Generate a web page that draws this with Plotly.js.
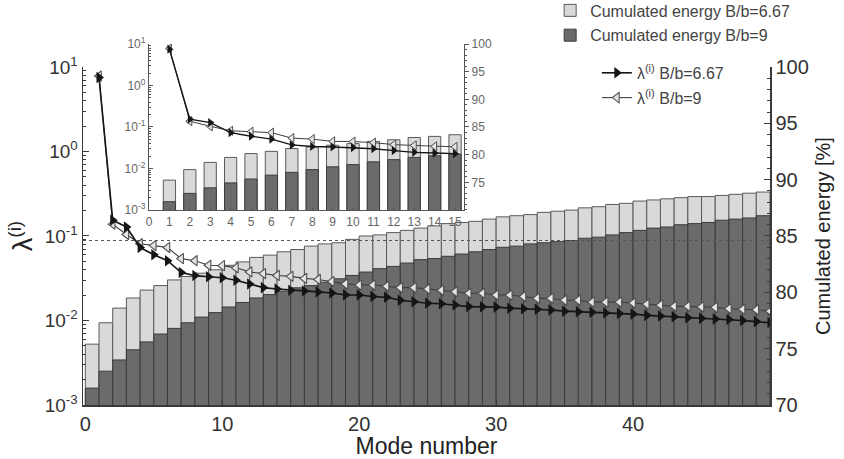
<!DOCTYPE html>
<html>
<head>
<meta charset="utf-8">
<script src="https://cdn.plot.ly/plotly-3.0.1.min.js"></script>
<style>html,body{margin:0;padding:0;background:#fff;}#chart{width:844px;height:459px;}</style>
</head>
<body>
<div id="chart"></div>
<script>
// ---- data ----
const modes = [1,2,3,4,5,6,7,8,9,10,11,12,13,14,15,16,17,18,19,20,21,22,23,24,25,
               26,27,28,29,30,31,32,33,34,35,36,37,38,39,40,41,42,43,44,45,46,47,48,49,50];

// cumulated energy [%], B/b = 6.67 (light bars)
const energy667 = [75.4,77.3,78.6,79.5,80.2,80.6,81.1,81.4,81.7,82.0,82.4,82.7,83.1,83.3,83.6,
                   83.8,84.1,84.3,84.4,84.7,85.0,85.1,85.3,85.5,85.7,85.9,86.1,86.2,86.3,86.5,
                   86.7,86.8,86.9,87.1,87.2,87.3,87.5,87.6,87.8,87.9,88.1,88.2,88.3,88.4,88.5,
                   88.5,88.6,88.7,88.8,88.9];
// cumulated energy [%], B/b = 9 (dark bars)
const energy9 = [71.5,73.0,74.0,74.9,75.6,76.3,76.8,77.3,77.8,78.2,78.7,79.1,79.5,79.8,80.1,
                 80.4,80.6,80.9,81.2,81.5,81.8,82.1,82.3,82.6,82.9,83.0,83.2,83.4,83.6,83.8,
                 84.0,84.1,84.3,84.4,84.5,84.6,84.8,84.9,85.1,85.3,85.5,85.7,85.8,86.0,86.1,
                 86.2,86.4,86.5,86.6,86.8];
// eigenvalues lambda^(i), B/b = 6.67 (filled triangles)
const lambda667 = [7.5,0.154,0.128,0.073,0.060,0.051,0.037,0.034,0.033,0.032,0.030,0.027,0.0245,0.0236,0.0228,
                   0.0224,0.0218,0.0212,0.0200,0.0200,0.0192,0.0188,0.0174,0.0167,0.0160,0.0158,0.0153,0.0146,0.0145,0.0144,
                   0.0140,0.0138,0.0136,0.0133,0.0129,0.0127,0.0125,0.0123,0.0121,0.0119,0.0115,0.0113,0.0111,0.0108,0.0106,
                   0.0104,0.0103,0.0100,0.0097,0.0094];
// eigenvalues lambda^(i), B/b = 9 (open triangles)
const lambda9 = [7.8,0.138,0.104,0.081,0.077,0.073,0.054,0.051,0.045,0.0446,0.042,0.0376,0.0359,0.0341,0.0333,
                 0.0315,0.0306,0.0289,0.0271,0.0263,0.0263,0.0254,0.0245,0.0245,0.0236,0.0228,0.0219,0.0210,0.0210,0.0200,
                 0.0200,0.0192,0.0183,0.0183,0.0174,0.0174,0.0165,0.0165,0.0165,0.0161,0.0156,0.0152,0.0147,0.0147,0.0145,
                 0.0143,0.0138,0.0136,0.0134,0.0129];
const insetCount = 15;

const xTicks = [0,10,20,30,40];
const rightTicks = [70,75,80,85,90,95,100];
const insetRightTicks = [75,80,85,90,95,100];
const logTickVals = [0.001,0.01,0.1,1,10];
const logTickText = ['10<sup>-3</sup>','10<sup>-2</sup>','10<sup>-1</sup>','10<sup>0</sup>','10<sup>1</sup>'];
const logMinorVals = [0.002,0.003,0.004,0.005,0.006,0.007,0.008,0.009,
                      0.02,0.03,0.04,0.05,0.06,0.07,0.08,0.09,
                      0.2,0.3,0.4,0.5,0.6,0.7,0.8,0.9,
                      2,3,4,5,6,7,8,9];
const insetXTicks = [0,1,2,3,4,5,6,7,8,9,10,11,12,13,14,15];

const names = {
  e667: 'Cumulated energy B/b=6.67',
  e9: 'Cumulated energy B/b=9',
  l667: 'λ<sup>(i)</sup> B/b=6.67',
  l9: 'λ<sup>(i)</sup> B/b=9'
};

// ---- styles ----
const FONT = 'Liberation Sans, Arial, sans-serif';
const lightFill = '#d9d9d9', lightEdge = '#5a5a5a';
const darkFill = '#6b6b6b', darkEdge = '#3c3c3c';
const axisCol = '#3a3a3a';
const openLine = '#3f3f3f', openEdge = '#505050', openFill = '#e4e4e4';

const inMode = modes.slice(0, insetCount);

const traces = [
  {type:'bar', x:modes, y:energy667, width:1, offset:-1, name:names.e667,
   marker:{color:lightFill, line:{color:lightEdge, width:1}}, xaxis:'x', yaxis:'y',
   legend:'legend', legendgroup:'a', legendrank:1},
  {type:'bar', x:modes, y:energy9, width:1, offset:-1, name:names.e9,
   marker:{color:darkFill, line:{color:darkEdge, width:1}}, xaxis:'x', yaxis:'y',
   legend:'legend', legendgroup:'b', legendrank:2},
  {type:'scatter', mode:'lines+markers', x:modes, y:lambda9, name:names.l9,
   line:{color:openLine, width:1.1},
   marker:{symbol:'triangle-left', size:9, color:openFill, line:{color:openEdge, width:1.1}},
   xaxis:'x', yaxis:'y2', legend:'legend2', legendgroup:'d', legendrank:2},
  {type:'scatter', mode:'lines+markers', x:modes, y:lambda667, name:names.l667,
   line:{color:'#151515', width:1.6},
   marker:{symbol:'triangle-right', size:10, color:'#151515'},
   xaxis:'x', yaxis:'y2', legend:'legend2', legendgroup:'c', legendrank:1},
  // inset
  {type:'bar', x:inMode, y:energy667.slice(0,insetCount), width:0.6, showlegend:false,
   marker:{color:lightFill, line:{color:lightEdge, width:1}}, xaxis:'x2', yaxis:'y3'},
  {type:'bar', x:inMode, y:energy9.slice(0,insetCount), width:0.6, showlegend:false,
   marker:{color:darkFill, line:{color:darkEdge, width:1}}, xaxis:'x2', yaxis:'y3'},
  {type:'scatter', mode:'lines+markers', x:inMode, y:lambda9.slice(0,insetCount), showlegend:false,
   line:{color:openLine, width:1},
   marker:{symbol:'triangle-left', size:8, color:openFill, line:{color:openEdge, width:1}},
   xaxis:'x2', yaxis:'y4'},
  {type:'scatter', mode:'lines+markers', x:inMode, y:lambda667.slice(0,insetCount), showlegend:false,
   line:{color:'#151515', width:1.4},
   marker:{symbol:'triangle-right', size:8, color:'#151515'},
   xaxis:'x2', yaxis:'y4'}
];

const tickFont = {family:FONT, size:20, color:'#333'};
const insetFont = {family:FONT, size:12, color:'#666'};

const layout = {
  width:844, height:459,
  margin:{l:83, r:74, t:44, b:54, autoexpand:false},
  paper_bgcolor:'#fff', plot_bgcolor:'rgba(0,0,0,0)',
  barmode:'overlay',
  font:{family:FONT, color:'#333'},
  xaxis:{domain:[0,1], range:[-0.17,50], anchor:'y', tickmode:'array', tickvals:xTicks,
         ticks:'inside', ticklen:6, tickcolor:axisCol, showline:true, linecolor:axisCol, linewidth:1.5,
         showgrid:false, zeroline:false, tickfont:tickFont,
         title:{text:'Mode number', font:{family:FONT, size:23, color:'#222'}, standoff:5}},
  yaxis:{domain:[0,0.9363], range:[70,100], anchor:'x', side:'right', tickmode:'array', tickvals:rightTicks,
         ticks:'inside', ticklen:6, tickcolor:axisCol, showline:true, linecolor:axisCol, linewidth:1.5,
         minor:{dtick:1, ticks:'inside', ticklen:3, tickcolor:axisCol, showgrid:false},
         showgrid:false, zeroline:false, tickfont:tickFont,
         title:{text:'Cumulated energy [%]', font:{family:FONT, size:20, color:'#222'}, standoff:8}},
  yaxis2:{overlaying:'y', anchor:'x', side:'left', type:'log', range:[-3,1], tickmode:'array',
          tickvals:logTickVals, ticktext:logTickText,
          ticks:'inside', ticklen:6, tickcolor:axisCol, showline:true, linecolor:axisCol, linewidth:1.5,
          minor:{tickmode:'array', tickvals:logMinorVals, ticks:'inside', ticklen:3, tickcolor:axisCol, showgrid:false},
          showgrid:false, zeroline:false, tickfont:{family:FONT, size:19, color:'#333'},
          title:{text:'λ<sup>(i)</sup>', font:{family:FONT, size:27, color:'#222'}, standoff:4}},
  xaxis2:{domain:[0.0961,0.5546], range:[0,15.44], anchor:'y3', tickmode:'array', tickvals:insetXTicks,
          ticks:'inside', ticklen:3, tickcolor:'#555', showline:true, linecolor:'#555', linewidth:1.2,
          showgrid:false, zeroline:false, tickfont:insetFont},
  yaxis3:{domain:[0.5402,1], range:[70,100], anchor:'x2', side:'right', tickmode:'array', tickvals:insetRightTicks,
          ticks:'outside', ticklen:4, tickcolor:'#555', showline:true, linecolor:'#555', linewidth:1.2,
          minor:{dtick:1, ticks:'outside', ticklen:2, tickcolor:'#555', showgrid:false},
          showgrid:false, zeroline:false, tickfont:insetFont},
  yaxis4:{overlaying:'y3', anchor:'x2', side:'left', type:'log', range:[-3,1], tickmode:'array',
          tickvals:logTickVals, ticktext:logTickText,
          ticks:'inside', ticklen:4, tickcolor:'#555', showline:true, linecolor:'#555', linewidth:1.2,
          minor:{tickmode:'array', tickvals:logMinorVals, ticks:'inside', ticklen:2, tickcolor:'#555', showgrid:false},
          showgrid:false, zeroline:false, tickfont:insetFont},
  shapes:[{type:'line', xref:'x', yref:'y', x0:-0.17, x1:50, y0:84.6, y1:84.6, layer:'above',
           line:{color:'#555', width:1.2, dash:'dot'}}],
  legend:{x:0.680, y:1.140, xanchor:'left', yanchor:'top',
          bgcolor:'rgba(0,0,0,0)', font:{family:FONT, size:16, color:'#444'}, tracegroupgap:1, traceorder:'grouped'},
  legend2:{x:0.748, y:0.967, xanchor:'left', yanchor:'top',
           bgcolor:'rgba(0,0,0,0)', font:{family:FONT, size:16, color:'#444'}, tracegroupgap:1, traceorder:'grouped'}
};

Plotly.newPlot('chart', traces, layout, {displayModeBar:false, staticPlot:true});
</script>
</body>
</html>
